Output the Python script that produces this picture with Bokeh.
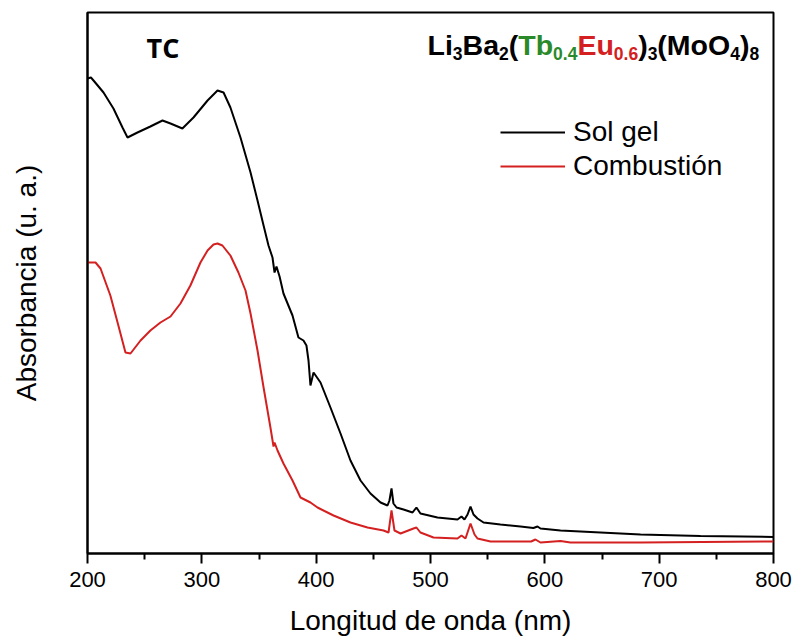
from bokeh.plotting import figure
from bokeh.models import Range1d, FixedTicker, Label, Legend, LegendItem
from bokeh.embed import file_html
from bokeh.resources import INLINE

# ---- data (wavelength nm, absorbance a.u.) ----
sol_wl = [200, 203, 206, 214, 222.7, 230.6, 235, 243.7, 255, 265.6, 272.6, 283, 292.7, 305,
          313.7, 319, 325, 333.8, 342.6, 348.7, 354, 358.3, 361.8, 363.6, 365.3, 368, 371.4,
          379.3, 384.5, 388.9, 391.5, 393.3, 395, 397.7, 403.8, 412.5, 421.3, 430, 438.8,
          447.5, 456.3, 462.4, 464.1, 465.9, 467.6, 470.3, 476.4, 484.3, 487.7, 491.2, 506.1,
          523.6, 527.1, 529.7, 532.4, 535, 537.6, 541.1, 546.4, 561.2, 578.7, 590, 593.6,
          596.2, 613.7, 648.7, 683.7, 736.1, 800]
sol_abs = [4.75, 4.76, 4.72, 4.61, 4.45, 4.26, 4.16, 4.21, 4.27, 4.33, 4.30, 4.25, 4.36, 4.53,
           4.63, 4.61, 4.46, 4.16, 3.81, 3.53, 3.28, 3.08, 2.96, 2.81, 2.87, 2.77, 2.60,
           2.38, 2.16, 2.13, 2.08, 1.93, 1.68, 1.81, 1.71, 1.46, 1.20, 0.93, 0.73,
           0.60, 0.51, 0.48, 0.53, 0.65, 0.50, 0.46, 0.44, 0.41, 0.46, 0.40, 0.36,
           0.34, 0.37, 0.34, 0.39, 0.47, 0.39, 0.35, 0.31, 0.29, 0.27, 0.255, 0.27,
           0.25, 0.23, 0.21, 0.19, 0.175, 0.165]

comb_wl = [200, 207, 211.4, 220, 227, 233.2, 237.6, 246.4, 255, 263.8, 272.6, 281.3, 290,
           298.8, 305, 310.2, 313.7, 318, 325, 332, 338.2, 342.6, 348.7, 354, 360, 362.7,
           363.6, 366.2, 371.4, 379.3, 386.3, 395, 401.2, 415.2, 430, 444.9, 458.9, 463.3,
           465.9, 468.5, 473.8, 485.1, 487.7, 491.2, 502.6, 523.6, 527.1, 530.6, 535, 538.5,
           541.1, 552.5, 588, 591.8, 596.2, 613.7, 622.4, 683.7, 800]
comb_abs = [2.91, 2.91, 2.85, 2.58, 2.28, 2.01, 2.00, 2.13, 2.23, 2.31, 2.37, 2.50, 2.68,
            2.91, 3.03, 3.09, 3.10, 3.08, 2.98, 2.81, 2.63, 2.40, 2.03, 1.66, 1.26, 1.07,
            1.11, 1.03, 0.90, 0.73, 0.56, 0.51, 0.46, 0.38, 0.31, 0.26, 0.23, 0.21,
            0.43, 0.23, 0.20, 0.25, 0.26, 0.21, 0.16, 0.15, 0.18, 0.15, 0.30, 0.19,
            0.15, 0.12, 0.12, 0.14, 0.11, 0.125, 0.11, 0.11, 0.12]

series_names = ["Sol gel", "Combustión"]
x_ticks = [200, 300, 400, 500, 600, 700, 800]
x_minor = [250, 350, 450, 550, 650, 750]
x_title = "Longitud de onda (nm)"
y_title = "Absorbancia (u. a.)"

FONT = "Liberation Sans"
RED = "#d42020"
GREEN = "#2a8a2a"

p = figure(width=794, height=641, output_backend="svg", toolbar_location=None,
           x_range=Range1d(200, 800), y_range=Range1d(0, 5.41),
           min_border_left=87, min_border_right=21, min_border_top=12, min_border_bottom=88,
           background_fill_color="white", border_fill_color="white")
p.xgrid.visible = False
p.ygrid.visible = False
p.outline_line_color = "black"
p.outline_line_width = 2

r1 = p.line(sol_wl, sol_abs, line_color="black", line_width=2)
r2 = p.line(comb_wl, comb_abs, line_color=RED, line_width=2)

# x axis
xa = p.xaxis[0]
xa.ticker = FixedTicker(ticks=x_ticks, minor_ticks=x_minor)
xa.axis_line_width = 2
xa.major_tick_line_width = 2
xa.minor_tick_line_width = 2
xa.major_tick_in = 0
xa.major_tick_out = 10
xa.minor_tick_in = 0
xa.minor_tick_out = 6
xa.major_label_standoff = 8
xa.major_label_text_font = FONT
xa.major_label_text_font_size = "22px"
xa.major_label_text_color = "black"
xa.axis_label = x_title
xa.axis_label_text_font = FONT
xa.axis_label_text_font_size = "28px"
xa.axis_label_text_font_style = "normal"
xa.axis_label_text_color = "black"
xa.axis_label_standoff = 15

# y axis
ya = p.yaxis[0]
ya.ticker = FixedTicker(ticks=[])
ya.axis_line_width = 2
ya.major_tick_out = 0
ya.major_tick_in = 0
ya.minor_tick_out = 0
ya.minor_tick_in = 0
ya.major_label_standoff = 0
ya.axis_label = y_title
ya.axis_label_text_font = FONT
ya.axis_label_text_font_size = "28px"
ya.axis_label_text_font_style = "normal"
ya.axis_label_text_color = "black"
ya.axis_label_standoff = 46

legend = Legend(items=[LegendItem(label=series_names[0], renderers=[r1]),
                       LegendItem(label=series_names[1], renderers=[r2])],
                location=(413, 371), border_line_color=None, background_fill_alpha=0,
                padding=0, margin=0, spacing=2, glyph_width=65, glyph_height=32,
                label_height=32, label_standoff=8, label_text_color="black",
                label_text_font=FONT, label_text_font_size="28px")
p.add_layout(legend)

# "TC" label
p.add_layout(Label(x=251.6, y=5.06, text="TC", text_font="Open Sans", text_font_style="bold",
                   text_font_size="27px", text_color="black",
                   text_baseline="alphabetic", text_align="left"))

# formula with sub-scripts, built from pieces
W = {"L": .611, "i": .278, "B": .722, "a": .556, "(": .333, ")": .333, "T": .611, "b": .611,
     "E": .667, "u": .611, "M": .833, "o": .611, "O": .778, ".": .278}
MAIN, SUB = 28.5, 17.5
pieces = [("Li", 0, "black"), ("3", 1, "black"), ("Ba", 0, "black"), ("2", 1, "black"),
          ("(", 0, "black"), ("Tb", 0, GREEN), ("0.4", 1, GREEN), ("Eu", 0, RED),
          ("0.6", 1, RED), (")", 0, "black"), ("3", 1, "black"), ("(MoO", 0, "black"),
          ("4", 1, "black"), (")", 0, "black"), ("8", 1, "black")]
off = 0.0
for txt, is_sub, col in pieces:
    size = SUB if is_sub else MAIN
    p.add_layout(Label(x=497.4, y=5.09, x_offset=off, y_offset=-9 if is_sub else 0,
                       text=txt, text_font=FONT, text_font_style="bold",
                       text_font_size=f"{size}px", text_color=col,
                       text_baseline="alphabetic", text_align="left"))
    off += sum(W.get(c, .556) for c in txt) * size

open("out.html", "w").write(file_html(p, INLINE))
